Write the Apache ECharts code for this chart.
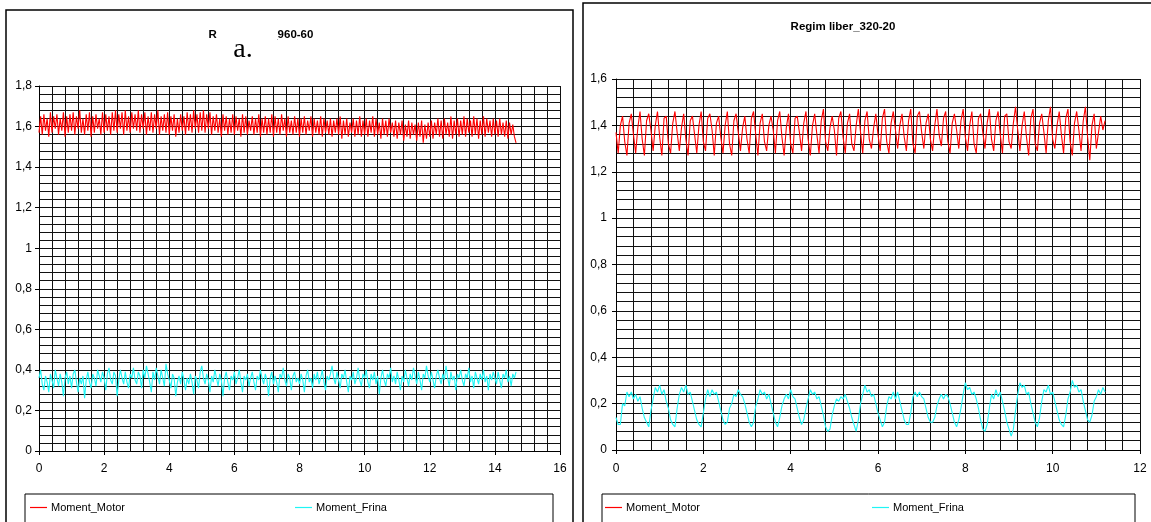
<!DOCTYPE html>
<html><head><meta charset="utf-8">
<script src="https://cdn.jsdelivr.net/npm/echarts@6/dist/echarts.min.js"></script>
<style>html,body{margin:0;padding:0;background:#fff}#c{width:1151px;height:522px}</style>
</head><body><div id="c"></div>
<script>
const seriesNames = ['Moment_Motor', 'Moment_Frina'];
const leftTitle = 'Regim liber_960-60';
const rightTitle = 'Regim liber_320-20';
const leftXMax = 16, rightXMax = 12;
const leftYMax = 1.8, rightYMax = 1.6;
const leftStep = 0.05;   // time step of the left recordings
const rightStep = 0.05;  // time step of the right recordings

const leftMotor = [
1.57,1.65,1.56,1.66,1.58,1.64,1.55,1.67,1.57,1.65,1.59,1.66,1.56,1.64,1.58,1.67,1.55,1.65,1.57,1.66,
1.58,1.67,1.56,1.65,1.59,1.68,1.57,1.64,1.56,1.66,1.58,1.67,1.55,1.65,1.57,1.66,1.59,1.64,1.56,1.67,
1.57,1.66,1.58,1.65,1.56,1.67,1.58,1.68,1.57,1.66,1.59,1.67,1.56,1.68,1.58,1.65,1.57,1.67,1.59,1.66,
1.58,1.68,1.57,1.66,1.59,1.67,1.56,1.65,1.58,1.67,1.57,1.66,1.59,1.68,1.56,1.65,1.58,1.66,1.57,1.67,
1.56,1.65,1.58,1.66,1.55,1.64,1.57,1.66,1.58,1.65,1.56,1.67,1.58,1.66,1.57,1.68,1.59,1.66,1.57,1.67,
1.58,1.68,1.57,1.66,1.59,1.67,1.56,1.65,1.58,1.66,1.57,1.64,1.55,1.66,1.58,1.65,1.56,1.64,1.57,1.66,
1.56,1.65,1.58,1.64,1.55,1.66,1.57,1.65,1.56,1.63,1.58,1.65,1.56,1.64,1.57,1.66,1.55,1.64,1.57,1.65,
1.56,1.64,1.57,1.66,1.55,1.65,1.57,1.64,1.56,1.66,1.58,1.64,1.55,1.65,1.57,1.63,1.56,1.65,1.57,1.64,
1.55,1.64,1.57,1.65,1.56,1.63,1.58,1.65,1.55,1.64,1.57,1.63,1.56,1.65,1.55,1.64,1.57,1.63,1.56,1.64,
1.55,1.63,1.57,1.64,1.56,1.65,1.54,1.63,1.56,1.64,1.55,1.62,1.57,1.64,1.55,1.63,1.56,1.65,1.55,1.63,
1.56,1.64,1.55,1.63,1.57,1.65,1.55,1.64,1.56,1.62,1.54,1.64,1.56,1.63,1.55,1.64,1.57,1.62,1.55,1.63,
1.54,1.62,1.56,1.63,1.53,1.61,1.55,1.63,1.54,1.62,1.56,1.61,1.53,1.62,1.55,1.63,1.52,1.61,1.54,1.62,
1.55,1.63,1.54,1.62,1.56,1.64,1.55,1.63,1.54,1.64,1.56,1.62,1.55,1.65,1.54,1.63,1.56,1.64,1.55,1.63,
1.56,1.65,1.55,1.64,1.57,1.63,1.55,1.65,1.56,1.64,1.54,1.63,1.56,1.65,1.55,1.64,1.57,1.63,1.55,1.64,
1.56,1.63,1.55,1.64,1.56,1.62,1.55,1.63,1.54,1.62,1.56,1.61,1.55,1.52
];
const leftFrina = [
0.36,0.40,0.33,0.30,0.37,0.34,0.29,0.38,0.35,0.31,0.40,0.36,0.32,0.38,0.34,0.27,0.36,0.39,0.33,0.37,
0.31,0.38,0.40,0.34,0.29,0.36,0.33,0.37,0.26,0.35,0.39,0.34,0.31,0.38,0.36,0.32,0.40,0.37,0.34,0.39,
0.36,0.30,0.38,0.41,0.35,0.33,0.39,0.37,0.27,0.35,0.40,0.36,0.33,0.39,0.34,0.31,0.38,0.36,0.41,0.35,
0.33,0.39,0.37,0.31,0.40,0.36,0.42,0.38,0.34,0.29,0.39,0.35,0.41,0.37,0.33,0.40,0.36,0.32,0.43,0.38,
0.35,0.31,0.38,0.36,0.27,0.34,0.37,0.33,0.39,0.35,0.30,0.36,0.33,0.38,0.34,0.28,0.37,0.35,0.31,0.39,
0.42,0.36,0.33,0.38,0.35,0.29,0.37,0.34,0.40,0.36,0.32,0.38,0.35,0.27,0.36,0.39,0.34,0.30,0.37,0.35,
0.39,0.33,0.36,0.40,0.34,0.29,0.37,0.35,0.38,0.32,0.36,0.39,0.34,0.30,0.37,0.35,0.40,0.36,0.33,0.38,
0.35,0.27,0.36,0.39,0.33,0.37,0.34,0.29,0.38,0.36,0.41,0.35,0.32,0.38,0.36,0.30,0.37,0.39,0.34,0.36,
0.33,0.38,0.35,0.29,0.37,0.40,0.34,0.36,0.31,0.38,0.35,0.39,0.33,0.36,0.40,0.34,0.30,0.37,0.35,0.38,
0.42,0.36,0.33,0.39,0.35,0.31,0.38,0.36,0.40,0.34,0.29,0.37,0.35,0.39,0.33,0.36,0.41,0.35,0.32,0.38,
0.36,0.40,0.34,0.31,0.38,0.35,0.39,0.33,0.37,0.28,0.36,0.40,0.35,0.32,0.38,0.36,0.41,0.34,0.37,0.33,
0.39,0.35,0.30,0.37,0.34,0.40,0.36,0.32,0.38,0.35,0.41,0.37,0.33,0.39,0.35,0.30,0.38,0.36,0.42,0.37,
0.34,0.39,0.35,0.31,0.37,0.40,0.36,0.33,0.38,0.35,0.42,0.36,0.32,0.39,0.35,0.37,0.30,0.38,0.36,0.40,
0.35,0.32,0.38,0.36,0.41,0.34,0.37,0.31,0.39,0.36,0.33,0.38,0.35,0.40,0.34,0.37,0.30,0.38,0.35,0.39,
0.36,0.33,0.39,0.35,0.31,0.38,0.36,0.40,0.34,0.37,0.32,0.38,0.36,0.39
];
const rightMotor = [
1.37,1.28,1.40,1.44, 1.33,1.27,1.41,1.45, 1.36,1.28,1.39,1.46, 1.34,1.27,1.42,1.45, 1.38,1.29,1.40,1.46,
1.35,1.27,1.43,1.44, 1.32,1.28,1.41,1.46, 1.37,1.29,1.39,1.45, 1.34,1.27,1.42,1.44, 1.36,1.28,1.40,1.46,
1.33,1.29,1.43,1.45, 1.38,1.27,1.41,1.44, 1.35,1.28,1.40,1.46, 1.32,1.27,1.42,1.45, 1.37,1.29,1.39,1.44,
1.34,1.28,1.43,1.46, 1.36,1.27,1.41,1.45, 1.33,1.29,1.40,1.44, 1.38,1.28,1.42,1.46, 1.35,1.27,1.39,1.45,
1.32,1.28,1.43,1.44, 1.37,1.29,1.41,1.46, 1.34,1.27,1.40,1.45, 1.36,1.28,1.42,1.47, 1.33,1.29,1.39,1.44,
1.38,1.27,1.43,1.46, 1.35,1.28,1.41,1.45, 1.32,1.29,1.40,1.47, 1.37,1.28,1.42,1.46, 1.34,1.30,1.39,1.45,
1.36,1.29,1.43,1.47, 1.33,1.28,1.41,1.46, 1.38,1.30,1.40,1.45, 1.35,1.29,1.42,1.47, 1.32,1.28,1.44,1.46,
1.37,1.30,1.41,1.45, 1.34,1.29,1.40,1.47, 1.36,1.31,1.43,1.46, 1.33,1.28,1.41,1.45, 1.38,1.30,1.42,1.47,
1.35,1.29,1.40,1.46, 1.32,1.28,1.43,1.45, 1.37,1.30,1.41,1.47, 1.34,1.29,1.42,1.46, 1.36,1.28,1.44,1.45,
1.33,1.30,1.41,1.48, 1.38,1.29,1.40,1.46, 1.35,1.27,1.43,1.47, 1.32,1.29,1.41,1.45, 1.37,1.28,1.42,1.48,
1.34,1.30,1.40,1.46, 1.36,1.28,1.43,1.47, 1.33,1.27,1.41,1.46, 1.38,1.29,1.42,1.48, 1.35,1.25,1.40,1.45,
1.30,1.37,1.44,1.38,1.42
];
const rightFrina = [
0.14,0.11,0.11,0.20,0.19,0.25,0.23,0.25,0.22,0.24,0.21,0.23,
0.18,0.14,0.12,0.10,0.17,0.22,0.27,0.25,0.28,0.24,0.26,0.21,
0.18,0.13,0.11,0.10,0.18,0.24,0.27,0.25,0.28,0.24,0.25,0.21,
0.17,0.13,0.11,0.10,0.16,0.22,0.26,0.23,0.26,0.24,0.25,0.21,
0.17,0.13,0.11,0.12,0.18,0.20,0.24,0.23,0.26,0.24,0.23,0.20,
0.16,0.12,0.10,0.12,0.19,0.22,0.26,0.24,0.25,0.22,0.24,0.20,
0.16,0.12,0.10,0.14,0.19,0.22,0.24,0.22,0.26,0.23,0.22,0.18,
0.14,0.11,0.13,0.18,0.22,0.26,0.24,0.25,0.22,0.23,0.19,0.15,
0.10,0.08,0.09,0.15,0.19,0.22,0.21,0.23,0.22,0.24,0.21,0.18,
0.14,0.11,0.08,0.13,0.20,0.24,0.28,0.25,0.26,0.23,0.24,0.20,
0.16,0.13,0.10,0.12,0.19,0.23,0.22,0.25,0.22,0.25,0.21,0.17,
0.13,0.11,0.11,0.16,0.23,0.25,0.23,0.25,0.23,0.22,0.18,0.14,
0.12,0.12,0.14,0.19,0.22,0.24,0.22,0.24,0.23,0.20,0.16,0.12,
0.10,0.13,0.18,0.24,0.29,0.26,0.27,0.24,0.25,0.22,0.18,0.13,
0.09,0.08,0.11,0.18,0.24,0.22,0.26,0.23,0.25,0.21,0.17,0.12,
0.09,0.06,0.09,0.17,0.24,0.29,0.27,0.28,0.24,0.25,0.20,0.16,
0.12,0.10,0.14,0.21,0.26,0.25,0.28,0.24,0.25,0.21,0.17,0.13,
0.11,0.10,0.15,0.22,0.25,0.30,0.27,0.28,0.25,0.26,0.21,0.17,
0.13,0.12,0.15,0.21,0.23,0.26,0.24,0.27,0.25
];

function pairs(vals, step) { return vals.map((v, i) => [Math.round(i * step * 1000) / 1000, v]); }
const fmt = v => String(Math.round(v * 100) / 100).replace('.', ',');
const FONT = '"Liberation Sans", Arial, sans-serif';
const gridColor = '#111';
const MOTOR_COLOR = '#ff0000', FRINA_COLOR = '#1ff5f5';

function xAxis(gi, max, margin) {
  return {
    type: 'value', gridIndex: gi, min: 0, max: max, interval: 2,
    axisLine: { show: true, onZero: false, lineStyle: { color: '#000', width: 1 } },
    axisTick: { show: true, length: 4, lineStyle: { color: '#000' } },
    axisLabel: { margin: margin, color: '#000', fontFamily: FONT, fontSize: 12, formatter: fmt },
    splitLine: { show: true, lineStyle: { color: gridColor, width: 1 } },
    minorTick: { show: false, splitNumber: 5 },
    minorSplitLine: { show: true, lineStyle: { color: gridColor, width: 1 } }
  };
}
function yAxis(gi, max, margin) {
  return {
    type: 'value', gridIndex: gi, min: 0, max: max, interval: 0.2,
    axisLine: { show: true, onZero: false, lineStyle: { color: '#000', width: 1 } },
    axisTick: { show: true, length: 4, lineStyle: { color: '#000' } },
    axisLabel: { margin: margin, color: '#000', fontFamily: FONT, fontSize: 12, formatter: fmt },
    splitLine: { show: true, lineStyle: { color: gridColor, width: 1 } },
    minorTick: { show: false, splitNumber: 5 },
    minorSplitLine: { show: true, lineStyle: { color: gridColor, width: 1 } }
  };
}
function line(name, gi, data, color) {
  return {
    name: name, type: 'line', xAxisIndex: gi, yAxisIndex: gi, data: data,
    symbol: 'none', showSymbol: false, sampling: null, smooth: false,
    lineStyle: { color: color, width: 1.1 }, itemStyle: { color: color }, z: 5
  };
}
function legend(name, left) {
  return {
    data: [name], left: left, top: 502, padding: 0, orient: 'horizontal',
    icon: 'rect', itemWidth: 17, itemHeight: 1.2, itemGap: 0, selectedMode: false,
    textStyle: { color: '#000', fontFamily: FONT, fontSize: 11, padding: [0, 0, 0, -1] }
  };
}

const chart = echarts.init(document.getElementById('c'), null, { renderer: 'canvas' });
chart.setOption({
  animation: false,
  backgroundColor: '#fff',
  grid: [
    { left: 39, top: 86, width: 521, height: 365 },
    { left: 616, top: 79, width: 524, height: 371 }
  ],
  xAxis: [xAxis(0, leftXMax, 12), xAxis(1, rightXMax, 13)],
  yAxis: [yAxis(0, leftYMax, 7), yAxis(1, rightYMax, 9)],
  legend: [
    legend(seriesNames[0], 30), legend(seriesNames[1], 295),
    legend(seriesNames[0], 605), legend(seriesNames[1], 872)
  ],
  series: [
    line(seriesNames[0], 0, pairs(leftMotor, leftStep), MOTOR_COLOR),
    line(seriesNames[1], 0, pairs(leftFrina, leftStep), FRINA_COLOR),
    line(seriesNames[0], 1, pairs(rightMotor, rightStep), MOTOR_COLOR),
    line(seriesNames[1], 1, pairs(rightFrina, rightStep), FRINA_COLOR)
  ],
  graphic: [
    { type: 'rect', shape: { x: 6, y: 10, width: 567, height: 540 }, style: { fill: null, stroke: '#000', lineWidth: 1.5 }, silent: true, z: 1 },
    { type: 'rect', shape: { x: 583, y: 3, width: 600, height: 560 }, style: { fill: null, stroke: '#000', lineWidth: 1.5 }, silent: true, z: 1 },
    { type: 'rect', shape: { x: 25, y: 494, width: 528, height: 60 }, style: { fill: null, stroke: '#000', lineWidth: 1 }, silent: true, z: 1 },
    { type: 'rect', shape: { x: 602, y: 494, width: 533, height: 60 }, style: { fill: null, stroke: '#000', lineWidth: 1 }, silent: true, z: 1 },
    { type: 'text', x: 261, y: 35, style: { text: leftTitle, textAlign: 'center', textVerticalAlign: 'middle', font: 'bold 11.5px "Liberation Sans", Arial, sans-serif', fill: '#000' }, z: 2 },
    { type: 'text', x: 843, y: 27, style: { text: rightTitle, textAlign: 'center', textVerticalAlign: 'middle', font: 'bold 11.5px "Liberation Sans", Arial, sans-serif', fill: '#000' }, z: 2 },
    { type: 'rect', shape: { x: 217, y: 22, width: 60, height: 44 }, style: { fill: '#fff' }, silent: true, z: 3 },
    { type: 'text', x: 243, y: 50, style: { text: 'a.', textAlign: 'center', textVerticalAlign: 'middle', font: '28px "Liberation Serif", "Times New Roman", serif', fill: '#000' }, z: 4 }
  ]
});
</script>
</body></html>
